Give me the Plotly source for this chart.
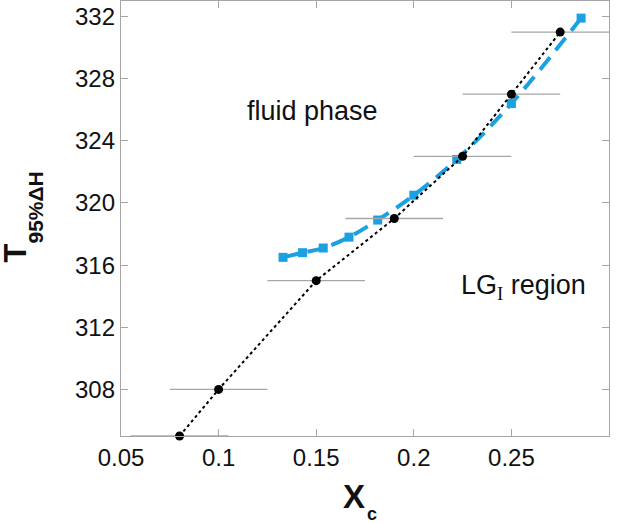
import plotly.graph_objects as go

# measured points (black circles) with horizontal uncertainty
xc_meas = [0.08, 0.10, 0.15, 0.19, 0.225, 0.25, 0.275]
t_meas = [305, 308, 315, 319, 323, 327, 331]
xc_err = [0.025, 0.025, 0.025, 0.025, 0.025, 0.025, 0.025]

# model curve (blue squares)
xc_model = [0.133, 0.143, 0.1536, 0.1668, 0.1815, 0.200, 0.222, 0.250, 0.2857]
t_model = [316.5, 316.8, 317.1, 317.8, 318.9, 320.5, 322.8, 326.4, 331.9]

x_ticks = [0.05, 0.1, 0.15, 0.2, 0.25, 0.3]
x_ticklabels = ["0.05", "0.1", "0.15", "0.2", "0.25", "0.3"]
y_ticks = [308, 312, 316, 320, 324, 328, 332]

blue = "#1ba1e2"
axis_gray = "#a6a6a6"
text_color = "#111111"
font_family = "Liberation Sans, Arial, sans-serif"

# plot area in pixels, used to place the axis titles
L, R, T, B = 121, 609, 1, 436


def px(x):
    return (x - L) / (R - L)


def py(y):
    return (B - y) / (B - T)


fig = go.Figure()

fig.add_trace(go.Scatter(
    x=xc_model, y=t_model,
    mode="lines+markers",
    line=dict(color=blue, width=4, dash="16px,9px", shape="spline"),
    marker=dict(symbol="square", size=9, color=blue),
    cliponaxis=False,
    showlegend=False
))

fig.add_trace(go.Scatter(
    x=xc_meas, y=t_meas,
    mode="lines+markers",
    line=dict(color="black", width=2, dash="dot"),
    marker=dict(symbol="circle", size=9, color="black"),
    error_x=dict(type="data", array=xc_err, color=axis_gray, thickness=1.3, width=0),
    cliponaxis=False,
    showlegend=False
))

# region labels
fig.add_annotation(
    x=0.1135, y=325.9, xref="x", yref="y",
    text="fluid phase", showarrow=False,
    xanchor="left", yanchor="middle",
    font=dict(size=27, color=text_color, family=font_family)
)
fig.add_annotation(
    x=0.2232, y=314.6, xref="x", yref="y",
    text="LG<sub><span style='font-family:Liberation Serif'>I</span></sub> region",
    showarrow=False,
    xanchor="left", yanchor="middle",
    font=dict(size=27, color=text_color, family=font_family)
)

# axis titles: main letter and subscript placed separately
fig.add_annotation(
    x=px(354), y=py(496), xref="paper", yref="paper",
    text="<b>X</b>", showarrow=False,
    xanchor="center", yanchor="middle",
    font=dict(size=33, color=text_color, family=font_family)
)
fig.add_annotation(
    x=px(372), y=py(514), xref="paper", yref="paper",
    text="<b>c</b>", showarrow=False,
    xanchor="center", yanchor="middle",
    font=dict(size=18, color=text_color, family=font_family)
)
fig.add_annotation(
    x=0, y=py(253), xref="paper", yref="paper",
    text="<b>T</b>", showarrow=False, textangle=-90,
    xanchor="right", yanchor="middle", xshift=-L + 34,
    font=dict(size=31, color=text_color, family=font_family)
)
fig.add_annotation(
    x=px(35), y=py(207.5), xref="paper", yref="paper",
    text="<b>95%ΔH</b>", showarrow=False, textangle=-90,
    xanchor="center", yanchor="middle",
    font=dict(size=21, color=text_color, family=font_family)
)

fig.update_xaxes(
    range=[0.05, 0.3],
    tickvals=x_ticks, ticktext=x_ticklabels,
    ticks="inside", ticklen=7, tickcolor=axis_gray, tickwidth=1,
    showline=True, linecolor=axis_gray, linewidth=1.3, mirror="ticks",
    showgrid=False, zeroline=False, automargin=False,
    tickfont=dict(size=24, color=text_color, family=font_family)
)
fig.update_yaxes(
    range=[305, 333],
    tickvals=y_ticks,
    ticks="inside", ticklen=7, tickcolor=axis_gray, tickwidth=1,
    showline=True, linecolor=axis_gray, linewidth=1.3, mirror="ticks",
    showgrid=False, zeroline=False, automargin=False,
    tickfont=dict(size=24, color=text_color, family=font_family)
)

fig.update_layout(
    width=625, height=524,
    margin=dict(l=L, r=625 - R, t=T, b=524 - B, autoexpand=False),
    plot_bgcolor="white", paper_bgcolor="white",
    font=dict(family=font_family)
)

# drop the default page margin so the figure sits at the window's corner
fig.write_html(
    "out.html",
    config={"displayModeBar": False},
    post_script="document.body.style.margin='0px';"
)
